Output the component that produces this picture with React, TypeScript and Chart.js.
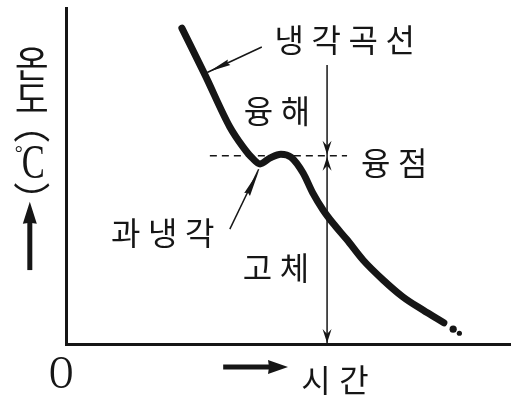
import React, { useEffect, useRef } from "react";
import { Chart, registerables } from "chart.js";

Chart.register(...registerables);

// ---- data (time 0..100, temperature 0..100, arbitrary units) ----
const curveTime = [26.1, 31.3, 36.9, 39.9, 41.9, 43.7, 46.0, 48.4, 50.7, 53.4, 55.6, 57.9, 60.1, 63.3, 66.9, 71.4, 75.9, 80.4, 85.1];
const curveTemp = [94.0, 80.1, 64.6, 58.6, 55.4, 53.6, 55.4, 56.5, 55.6, 50.9, 44.9, 39.9, 36.0, 31.0, 25.0, 19.1, 14.0, 10.1, 6.3];
const tailTime = [87.2, 88.6];
const tailTemp = [4.4, 3.2];
const meltingTemp = 56.0;
const meltLineTime = [32.4, 63.3];
const markerTime = 58.8;
const markerTemp = [83.0, 0];
const coolPointerTime = [44.1, 31.8];
const coolPointerTemp = [88.4, 80.8];
const superPointerTime = [36.9, 43.4];
const superPointerTemp = [34.2, 52.0];
const labelTexts = ["냉각곡선", "융해", "융점", "과냉각", "고체"];
const labelTime = [62.8, 47.5, 73.9, 21.8, 47.3];
const labelTemp = [90.5, 69.3, 53.9, 33.0, 22.6];
const yTitleChars = ["온", "도", "︵", "︶"];
const yTitleTemp = [83.6, 73.2, 61.6, 46.4];
const unitTemp = 54.2;
const yArrowTemp = [22.0, 42.3];
const yTitleTime = -7.7;
const xTitle = "시간";
const xTitleTime = 60.6;
const xTitleTemp = -10.7;
const xArrowTime = [35.4, 50.0];
const xArrowTemp = -6.85;
const originText = "O";

const INK = "#161616";
const KFONT = '32px "Noto Sans CJK KR", "Noto Sans", sans-serif';
const KFONT_BIG = '37px "Noto Sans CJK KR", "Noto Sans", sans-serif';

function spaced(ctx: CanvasRenderingContext2D, s: string, cx: number, cy: number, pitch: number) {
  const chars = Array.from(s);
  const start = cx - (pitch * (chars.length - 1)) / 2;
  chars.forEach((c, i) => ctx.fillText(c, start + i * pitch, cy));
}

// draw text so that its ink box is centred on (cx, cy)
function inkCentered(ctx: CanvasRenderingContext2D, s: string, cx: number, cy: number) {
  ctx.save();
  ctx.textAlign = "left";
  ctx.textBaseline = "alphabetic";
  const m = ctx.measureText(s);
  const L = m.actualBoundingBoxLeft;
  const R = m.actualBoundingBoxRight;
  const A = m.actualBoundingBoxAscent;
  const D = m.actualBoundingBoxDescent;
  ctx.fillText(s, cx - (R - L) / 2, cy + (A - D) / 2);
  ctx.restore();
}

function head(ctx: CanvasRenderingContext2D, tx: number, ty: number, fx: number, fy: number, len: number, half: number, notch: number) {
  const a = Math.atan2(ty - fy, tx - fx);
  ctx.save();
  ctx.translate(tx, ty);
  ctx.rotate(a);
  ctx.beginPath();
  ctx.moveTo(0, 0);
  ctx.lineTo(-len, -half);
  ctx.lineTo(-len + notch, 0);
  ctx.lineTo(-len, half);
  ctx.closePath();
  ctx.fill();
  ctx.restore();
}

const annotate = {
  id: "annotate",
  afterDatasetsDraw(chart: any) {
    const { ctx } = chart;
    const x = chart.scales.x;
    const y = chart.scales.y;
    const px = (t: number) => x.getPixelForValue(t);
    const py = (T: number) => y.getPixelForValue(T);
    ctx.save();
    ctx.fillStyle = INK;
    ctx.strokeStyle = INK;
    ctx.textAlign = "center";
    ctx.textBaseline = "middle";

    // labels
    ctx.font = KFONT;
    labelTexts.forEach((s, i) => spaced(ctx, s, px(labelTime[i]), py(labelTemp[i]), 37));
    spaced(ctx, xTitle, px(xTitleTime), py(xTitleTemp), 38);

    // vertical y title: 온 도 ︵ ℃ ︶
    const ux = px(yTitleTime);
    ctx.font = KFONT_BIG;
    yTitleChars.forEach((c, i) => inkCentered(ctx, c, ux, py(yTitleTemp[i])));
    ctx.save();
    ctx.translate(ux + 1, py(unitTemp));
    ctx.scale(0.72, 1);
    ctx.font = '48px "Liberation Serif", serif';
    inkCentered(ctx, "C", 0, 0);
    ctx.restore();
    ctx.font = '20px "Liberation Serif", serif';
    inkCentered(ctx, "°", ux - 13, py(unitTemp) - 12);

    // origin
    ctx.save();
    ctx.translate(px(-1.1), py(-8.6));
    ctx.scale(0.72, 1);
    ctx.font = '46px "Liberation Serif", serif';
    inkCentered(ctx, originText, 0, 0);
    ctx.restore();

    // marker arrowheads
    const mx = px(markerTime);
    const my = py(meltingTemp);
    head(ctx, mx, my - 1, mx, my - 30, 14, 4.5, 5);
    head(ctx, mx, my + 1, mx, my + 30, 14, 4.5, 5);
    head(ctx, mx, py(0) - 1, mx, py(0) - 30, 14, 4.5, 5);

    // pointer arrowheads
    head(ctx, px(coolPointerTime[1]) + 2, py(coolPointerTemp[1]) - 1, px(coolPointerTime[0]), py(coolPointerTemp[0]), 22, 3, 2);
    head(ctx, px(superPointerTime[1]), py(superPointerTemp[1]) + 2, px(superPointerTime[0]), py(superPointerTemp[0]), 26, 3.2, 2);

    // thick axis arrows
    ctx.lineWidth = 5;
    ctx.lineCap = "butt";
    const ax0 = px(xArrowTime[0]);
    const ax1 = px(xArrowTime[1]);
    const ay = py(xArrowTemp);
    ctx.beginPath();
    ctx.moveTo(ax0, ay);
    ctx.lineTo(ax1 - 12, ay);
    ctx.stroke();
    head(ctx, ax1, ay, ax0, ay, 20, 7, 1);

    const vx = ux - 2;
    const vy0 = py(yArrowTemp[0]);
    const vy1 = py(yArrowTemp[1]);
    ctx.beginPath();
    ctx.moveTo(vx, vy0);
    ctx.lineTo(vx, vy1 + 12);
    ctx.stroke();
    head(ctx, vx, vy1, vx, vy0, 22, 7, 1);

    ctx.restore();
  },
};

export default function App() {
  const ref = useRef<HTMLCanvasElement | null>(null);
  useEffect(() => {
    if (!ref.current) return;
    const pts = (xs: number[], ys: number[]) => xs.map((v, i) => ({ x: v, y: ys[i] }));
    const thin = { showLine: true, borderColor: INK, borderWidth: 1.5, pointRadius: 0, tension: 0 };
    const chart = new Chart(ref.current, {
      type: "scatter",
      data: {
        datasets: [
          {
            data: pts(curveTime, curveTemp),
            showLine: true,
            borderColor: INK,
            borderWidth: 7,
            pointRadius: 0,
            cubicInterpolationMode: "monotone",
            borderCapStyle: "round",
            borderJoinStyle: "round",
          } as any,
          {
            data: pts(tailTime, tailTemp),
            showLine: false,
            pointRadius: [3.6, 2.6],
            backgroundColor: INK,
            borderWidth: 0,
          } as any,
          { ...thin, data: meltLineTime.map((t) => ({ x: t, y: meltingTemp })), borderDash: [7, 5] } as any,
          { ...thin, data: markerTemp.map((T) => ({ x: markerTime, y: T })) } as any,
          { ...thin, data: pts(coolPointerTime, coolPointerTemp) } as any,
          { ...thin, data: pts(superPointerTime, superPointerTemp) } as any,
        ],
      },
      options: {
        responsive: false,
        animation: false,
        layout: { padding: { left: 66, right: 6, top: 8, bottom: 57 } },
        plugins: { legend: { display: false }, tooltip: { enabled: false } },
        scales: {
          x: {
            type: "linear",
            min: 0,
            max: 100,
            grid: { display: false, drawTicks: false },
            ticks: { display: false },
            border: { display: true, color: INK, width: 3 },
          },
          y: {
            type: "linear",
            min: 0,
            max: 100,
            grid: { display: false, drawTicks: false },
            ticks: { display: false },
            border: { display: true, color: INK, width: 3 },
          },
        },
      } as any,
      plugins: [annotate as any],
    });
    return () => chart.destroy();
  }, []);
  return (
    <div style={{ position: "absolute", left: 0, top: 0, width: 516, height: 401, background: "#fff" }}>
      <canvas ref={ref} width={516} height={401} style={{ display: "block" }} />
    </div>
  );
}
